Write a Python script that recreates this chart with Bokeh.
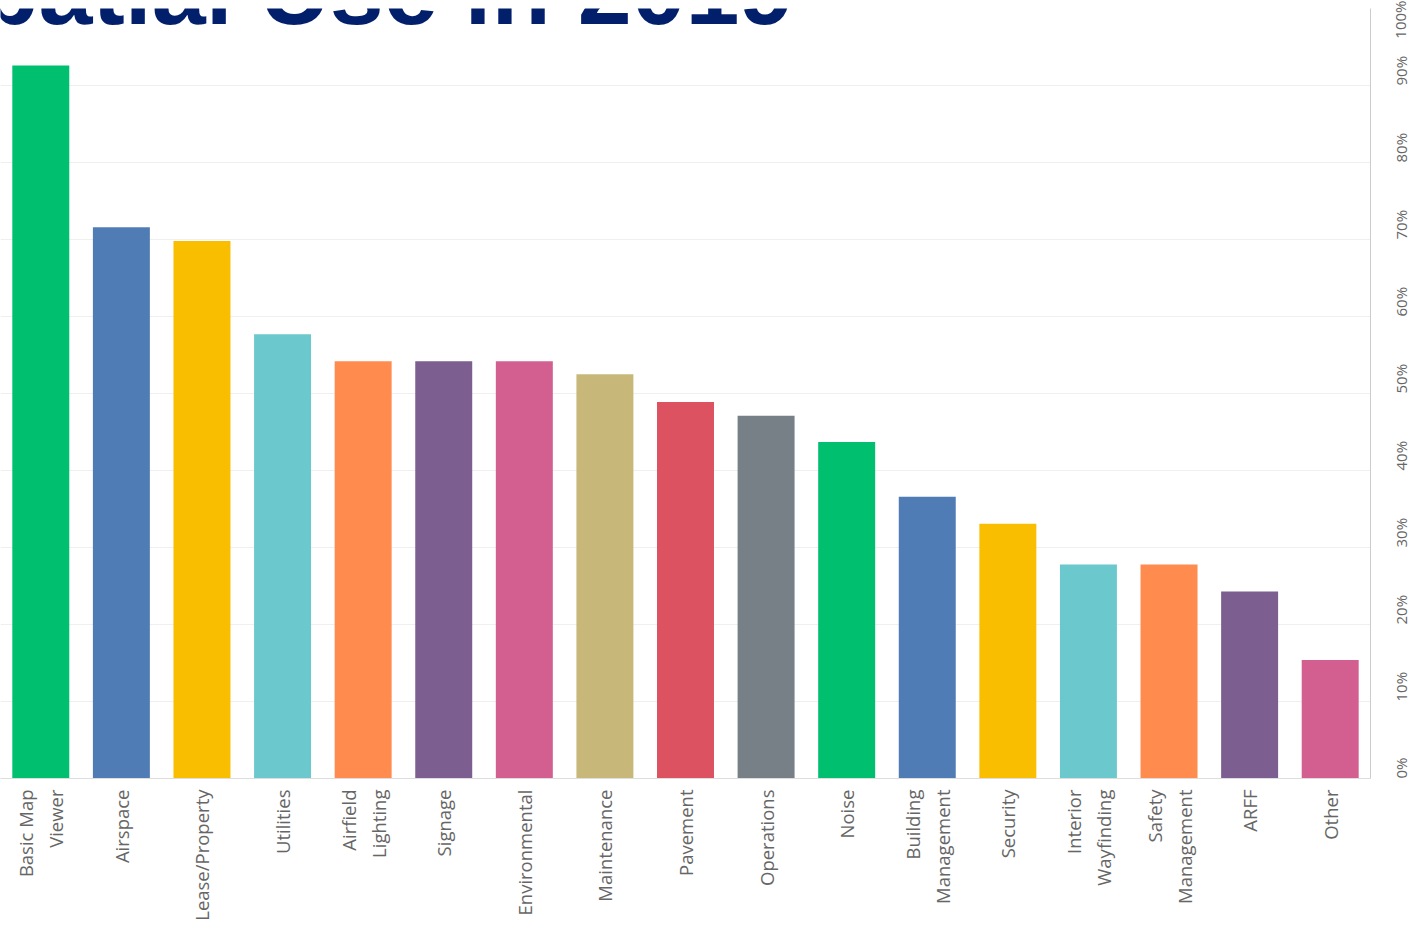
from bokeh.plotting import figure
from bokeh.models import ColumnDataSource, FixedTicker, PrintfTickFormatter, Label
from bokeh.embed import file_html
from bokeh.resources import INLINE
import math

categories = ["Basic Map\nViewer", "Airspace", "Lease/Property", "Utilities", "Airfield\nLighting",
              "Signage", "Environmental", "Maintenance", "Pavement", "Operations", "Noise",
              "Building\nManagement", "Security", "Interior\nWayfinding", "Safety\nManagement",
              "ARFF", "Other"]
values = [92.6, 71.6, 69.8, 57.7, 54.2, 54.2, 54.2, 52.5, 48.9, 47.1, 43.7, 36.6, 33.1, 27.8, 27.8, 24.3, 15.4]
palette = ["#00BF6F", "#507CB6", "#F9BE00", "#6BC8CD", "#FF8B4F", "#7D5E90", "#D25F90",
           "#C7B879", "#DC5261", "#768086"]
colors = [palette[i % len(palette)] for i in range(len(categories))]
y_ticks = list(range(0, 101, 10))
title_text = "Spatial Use in 2019"

src = ColumnDataSource(dict(cat=categories, val=values, color=colors))

p = figure(x_range=categories, y_range=(0, 100), frame_width=1370, frame_height=770,
           min_border_left=0, min_border_top=8, min_border_right=0, min_border_bottom=0,
           y_axis_location="right", toolbar_location=None, output_backend="svg")
p.outline_line_color = None
p.background_fill_color = "white"
p.border_fill_color = "white"

p.vbar(x="cat", top="val", width=0.707, color="color", line_color=None, source=src)

p.xgrid.grid_line_color = None
p.ygrid.grid_line_color = "#efefef"
p.ygrid.grid_line_width = 1

ya = p.yaxis[0]
ya.ticker = FixedTicker(ticks=y_ticks)
ya.formatter = PrintfTickFormatter(format="%d%%")
ya.major_label_orientation = math.pi / 2
ya.major_tick_line_color = None
ya.minor_tick_line_color = None
ya.axis_line_color = "#cccccc"
ya.major_label_standoff = 24
ya.major_label_text_font = "Open Sans"
ya.major_label_text_font_size = "15px"
ya.major_label_text_color = "#666666"

xa = p.xaxis[0]
xa.major_label_orientation = math.pi / 2
xa.major_tick_line_color = None
xa.axis_line_color = "#dddddd"
xa.major_label_standoff = 5
xa.major_label_text_font = "Open Sans"
xa.major_label_text_font_size = "18.5px"
xa.major_label_text_color = "#666666"

title = Label(x=9.84, y=102.4, text=title_text, text_font="Liberation Sans",
              text_font_size="97px", text_font_style="bold", text_color="#021F6B",
              text_baseline="alphabetic", text_align="right")
p.add_layout(title)

open("out.html", "w").write(file_html(p, INLINE))
